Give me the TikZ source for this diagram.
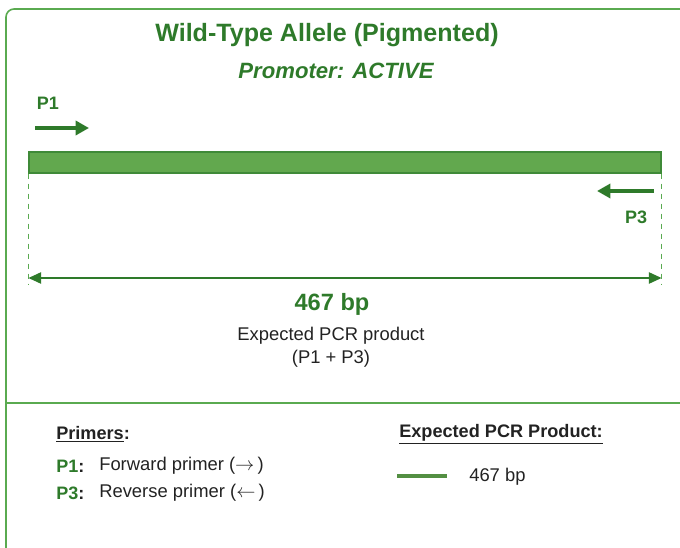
\documentclass[tikz,border=0pt]{standalone}
\usepackage{fontspec}
\setmainfont{Liberation Sans}
\usetikzlibrary{arrows.meta}
\definecolor{darkgreen}{HTML}{2E7A2A}
\definecolor{bargreen}{HTML}{62A84E}
\definecolor{barline}{HTML}{3F8A38}
\definecolor{framegreen}{HTML}{5AAA50}
\definecolor{textgray}{HTML}{222222}

\begin{document}
\begin{tikzpicture}[x=0.75pt, y=-0.75pt,
		every node/.style={inner sep=0pt, text=textgray},
		primer/.style={draw=darkgreen, line width=3pt, -{Triangle[length=10pt, width=10.5pt]}},
		tag/.style={text=darkgreen, font=\bfseries\fontsize{13.5}{16}\selectfont},
		plain/.style={font=\fontsize{13.8}{16}\selectfont},
		heading/.style={anchor=west, font=\bfseries\fontsize{13.6}{16}\selectfont}]
	\useasboundingbox (0,0) rectangle (680,548);
	\clip (0,0) rectangle (680,548);

	% frame and divider
	\draw[framegreen, line width=1.2pt, rounded corners=6pt] (6,9) rectangle (700,580);
	\draw[framegreen, line width=1.2pt] (6,403) -- (690,403);

	% titles
	\node[text=darkgreen, font=\bfseries\fontsize{18.8}{22}\selectfont] (title) at (327,35) {Wild-Type Allele (Pigmented)};
	\node[text=darkgreen, font=\bfseries\itshape\fontsize{16.6}{20}\selectfont] (promoter) at (336,71) {Promoter: ACTIVE};

	% gene bar
	\node[draw=barline, fill=bargreen, line width=0.8pt, minimum width=474pt, minimum height=15.75pt] (gene) at (345,162.5) {};

	% primers
	\node[tag] (p1) at (48,103) {P1};
	\coordinate (p1tail) at (35,128);
	\coordinate (p1head) at (89,128);
	\draw[primer] (p1tail) -- (p1head);
	\coordinate (p3tail) at (654,191);
	\coordinate (p3head) at (597,191);
	\draw[primer] (p3tail) -- (p3head);
	\node[tag] (p3) at (636,217) {P3};

	% product size
	\coordinate (leftend) at (gene.south west |- 0,285);
	\coordinate (rightend) at (gene.south east |- 0,285);
	\draw[framegreen, line width=0.8pt, dash pattern=on 4pt off 3.5pt] (gene.south west) -- (leftend);
	\draw[framegreen, line width=0.8pt, dash pattern=on 4pt off 3.5pt] (gene.south east) -- (rightend);
	\coordinate (sizeL) at (gene.south west |- 0,278);
	\coordinate (sizeR) at (gene.south east |- 0,278);
	\draw[darkgreen, line width=1.1pt, {Triangle[length=9.5pt, width=8.5pt]}-{Triangle[length=9.5pt, width=8.5pt]}] (sizeL) -- (sizeR);
	\node[text=darkgreen, font=\bfseries\fontsize{17.7}{20}\selectfont] (size) at (332,304) {467 bp};
	\node[plain, align=center] (product) at (331,347.5) {Expected PCR product\\[1pt](P1 + P3)};

	% legend
	\node[heading] (primers) at (56,434) {\underline{Primers}:};
	\node[tag, anchor=west] (key1) at (56,466) {P1\textcolor{textgray}{:}};
	\node[plain, anchor=west] (desc1) at (99,466) {Forward primer ($\rightarrow$\,)};
	\node[tag, anchor=west] (key3) at (56,493) {P3\textcolor{textgray}{:}};
	\node[plain, anchor=west] (desc3) at (99,493) {Reverse primer ($\leftarrow$\,)};
	\node[heading] (expected) at (399,434) {\underline{Expected PCR Product:}};
	\coordinate (keyL) at (397,476);
	\coordinate (keyR) at (447,476);
	\draw[bargreen!85!black, line width=3pt] (keyL) -- (keyR);
	\node[plain, anchor=west] (keysize) at (469,477) {467 bp};
\end{tikzpicture}
\end{document}
